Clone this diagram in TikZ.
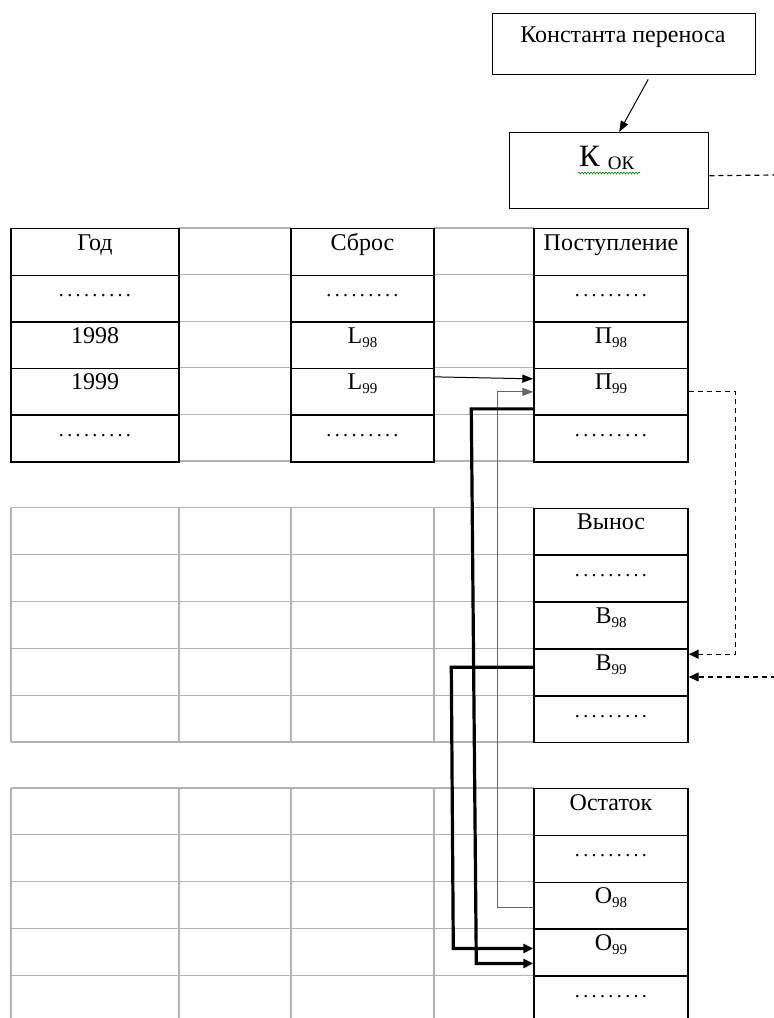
\documentclass[tikz,border=0pt]{standalone}
\usepackage{fontspec}
\setmainfont{Liberation Serif}
\usetikzlibrary{arrows.meta,decorations.pathmorphing}
\newcommand\dotrow{{\fontsize{20}{22}\selectfont\hbox to 75.4pt{\xleaders\hbox to 8.375pt{\hss.\hss}\hfill}}}
\newcommand\sbs[1]{\raisebox{-4pt}{\fontsize{15}{15}\selectfont #1}}
\begin{document}
\begin{tikzpicture}[x=1pt,y=-1pt,
  bcell/.style={draw=black, line width=1.4pt, minimum height=46.7pt, inner sep=0pt, anchor=north},
  box/.style={draw=black, line width=1.4pt, inner sep=0pt, anchor=north west},
  txt/.style={anchor=base, inner sep=0pt, font=\fontsize{24}{28}\selectfont},
  gridline/.style={draw=black!30, line width=1.2pt},
  thinarr/.style={draw=black, line width=1pt, -{Triangle[length=11pt,width=8pt]}},
  grayarr/.style={draw=black!60, line width=1pt, -{Triangle[length=11pt,width=8pt]}},
  thickarr/.style={draw=black, line width=3.2pt, -{Triangle[length=10pt,width=9pt]}},
  dsh/.style={draw=black, line width=1.2pt, dash pattern=on 5pt off 4pt},
  dsharr/.style={dsh, -{Triangle[length=10pt,width=9pt]}}]
\useasboundingbox (0,0) rectangle (774,1018);
\clip (0,0) rectangle (774,1018);

% gray lines of the top table
\foreach \i in {0,...,5}{
  \draw[gridline] (179,228+46.6*\i) -- (291,228+46.6*\i);
  \draw[gridline] (434,228+46.6*\i) -- (534,228+46.6*\i);
}
% gray grids of middle and bottom tables
\foreach \t/\s in {507.5/46.9, 788/46.8}{
  \foreach \i in {0,...,5}{
    \draw[gridline] (11,\t+\s*\i) -- (534,\t+\s*\i);
  }
  \foreach \x in {11,179,291,434}{
    \draw[gridline] (\x,\t) -- (\x,\t+5*\s);
  }
}

% top table, black columns
\foreach \i/\t in {0/Год,1/\dotrow,2/1998,3/1999,4/\dotrow}{
  \node[bcell, minimum width=168pt] (god\i) at (95,228+46.6*\i) {};
  \node[txt] at ([yshift=-22pt]god\i.north) {\t};
}
\foreach \i/\t in {0/Сброс,1/\dotrow,2/L\sbs{98},3/L\sbs{99},4/\dotrow}{
  \node[bcell, minimum width=143pt] (sb\i) at (362.5,228+46.6*\i) {};
  \node[txt] at ([yshift=-22pt]sb\i.north) {\t};
}
\foreach \i/\t in {0/Поступление,1/\dotrow,2/П\sbs{98},3/П\sbs{99},4/\dotrow}{
  \node[bcell, minimum width=154pt] (pos\i) at (611,228+46.6*\i) {};
  \node[txt] at ([yshift=-22pt]pos\i.north) {\t};
}
\foreach \i/\t in {0/Вынос,1/\dotrow,2/В\sbs{98},3/В\sbs{99},4/\dotrow}{
  \node[bcell, minimum width=154pt] (vyn\i) at (611,507.5+46.9*\i) {};
  \node[txt] at ([yshift=-22pt]vyn\i.north) {\t};
}
\foreach \i/\t in {0/Остаток,1/\dotrow,2/О\sbs{98},3/О\sbs{99},4/\dotrow}{
  \node[bcell, minimum width=154pt] (ost\i) at (611,788+46.8*\i) {};
  \node[txt] at ([yshift=-22pt]ost\i.north) {\t};
}

% top boxes
\node[box, minimum width=263pt, minimum height=61pt] (konst) at (492,13) {};
\node[txt] at (623,42) {Константа переноса};
\node[box, minimum width=199pt, minimum height=76pt] (kok) at (509,132) {};
\node[anchor=base west, inner sep=0pt] (kt) at (579,166)
  {\fontsize{31}{33}\selectfont К\hspace{8pt}\raisebox{-3pt}{\fontsize{19}{19}\selectfont ОК}};
\draw[green!55!black, line width=0.6pt, decorate,
  decoration={snake, amplitude=1pt, segment length=3pt}] (578,173) -- (640,173);
\draw[thinarr] ([xshift=24pt,yshift=-4pt]konst.south) -- ([xshift=10pt]kok.north);

% dashed connectors
\coordinate (edgeA) at (776,175);
\coordinate (edgeB) at (776,677);
\draw[dsh] ([yshift=-5pt]kok.east) -- (edgeA);
\draw[dsharr] (pos3.east) -- ++(47,0) |- ([yshift=-6pt]vyn3.north east);
\draw[dsharr] (edgeB) -- (vyn3.east |- edgeB);

% solid connectors
\draw[thinarr] ([yshift=15pt]sb3.east) -- ([yshift=13pt]pos3.west);
\draw[grayarr] ([yshift=-2pt]ost2.west) -| ([xshift=-36pt]pos3.west) -- (pos3.west);
\draw[thickarr] ([yshift=-17pt]pos3.west) -- ++(-62,0)
  -- ([xshift=-57pt,yshift=-11pt]ost3.west) -- ([yshift=-11pt]ost3.west);
\draw[thickarr] ([yshift=5pt]vyn3.west) -- ++(-82,0)
  -- ([xshift=-80pt,yshift=4pt]ost3.west) -- ([yshift=4pt]ost3.west);
\end{tikzpicture}
\end{document}
